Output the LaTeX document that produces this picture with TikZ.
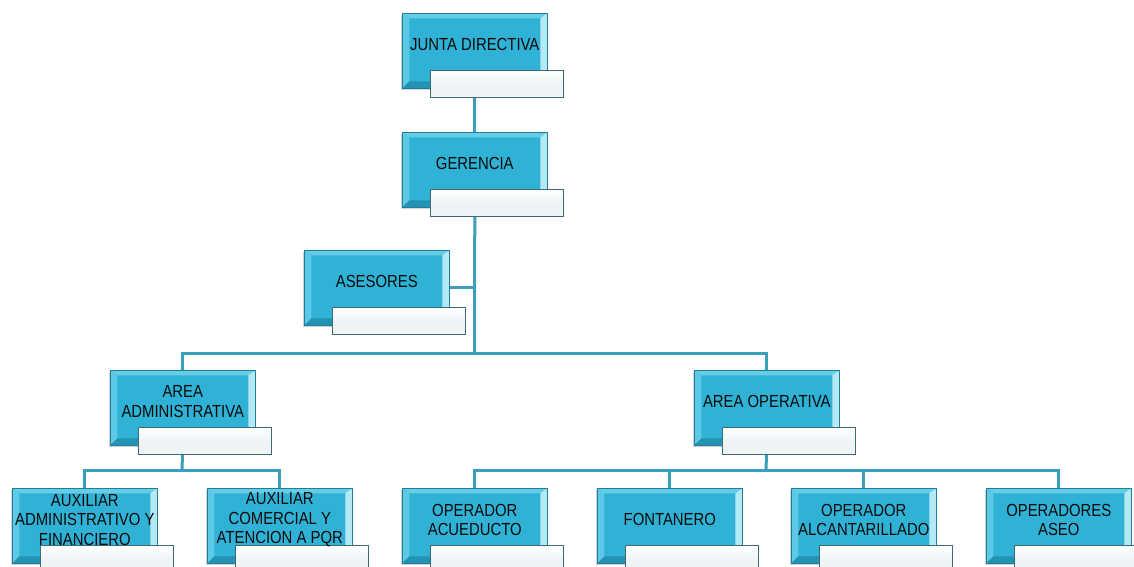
\documentclass[tikz,border=0pt]{standalone}
\usepackage{fontspec}
\newfontfamily\boxfont[FakeStretch=0.85]{Liberation Sans}
\usetikzlibrary{backgrounds,shadows}
\definecolor{boxblue}{HTML}{2FB2D5}
\definecolor{bevleft}{HTML}{5CCAE6}
\definecolor{bevright}{HTML}{B2E9F5}
\definecolor{bevtop}{HTML}{66CDE7}
\definecolor{bevbot}{HTML}{2293B3}
\definecolor{boxedge}{HTML}{1F7F9A}
\definecolor{wfill}{HTML}{EEF3F5}
\definecolor{wedge}{HTML}{3E6B73}
\definecolor{conn}{HTML}{3C9EB9}
\definecolor{textdark}{HTML}{0A0A0A}
\tikzset{
  bluebox/.style={anchor=north west, minimum width=145pt, minimum height=75pt, inner sep=0pt,
    fill=boxblue, draw=boxedge, line width=0.6pt,
    drop shadow={shadow xshift=-1.5pt, shadow yshift=-1.5pt, opacity=0.35},
    path picture={
      \fill[bevtop] (path picture bounding box.north west) -- (path picture bounding box.north east)
        -- ([shift={(-7pt,-5pt)}]path picture bounding box.north east)
        -- ([shift={(7pt,-5pt)}]path picture bounding box.north west) -- cycle;
      \fill[bevleft] (path picture bounding box.north west) -- (path picture bounding box.south west)
        -- ([shift={(7pt,7pt)}]path picture bounding box.south west)
        -- ([shift={(7pt,-5pt)}]path picture bounding box.north west) -- cycle;
      \fill[bevright] (path picture bounding box.north east) -- (path picture bounding box.south east)
        -- ([shift={(-7pt,7pt)}]path picture bounding box.south east)
        -- ([shift={(-7pt,-5pt)}]path picture bounding box.north east) -- cycle;
      \fill[bevbot] (path picture bounding box.south west) -- (path picture bounding box.south east)
        -- ([shift={(-7pt,7pt)}]path picture bounding box.south east)
        -- ([shift={(7pt,7pt)}]path picture bounding box.south west) -- cycle;
    }},
  whitebox/.style={anchor=north west, minimum width=133pt, minimum height=27pt, inner sep=0pt,
    draw=wedge, line width=1.1pt, top color=white, bottom color=wfill, middle color=wfill},
  lbl/.style={align=center, font=\boxfont\fontsize{17.5}{19.5}\selectfont, text=textdark, inner sep=0pt},
  link/.style={draw=conn, line width=3pt}
}
\newcommand{\orgbox}[4]{%
  \node[bluebox] (#1) at (#2,#3) {};
  \node[whitebox] (#1w) at (#2+28,#3+57) {};
  \node[lbl] (#1t) at ([yshift=6pt]#1.center) {#4};
}
\begin{document}
\begin{tikzpicture}[x=1pt,y=-1pt]
\useasboundingbox (0,0) rectangle (1134,567);
\orgbox{jd}{402}{13}{JUNTA DIRECTIVA}
\orgbox{ger}{402}{132}{GERENCIA}
\orgbox{ase}{304}{250}{ASESORES}
\orgbox{aadm}{110}{370}{AREA\\ADMINISTRATIVA}
\orgbox{aop}{694}{370}{AREA OPERATIVA}
\orgbox{aux1}{12}{488}{AUXILIAR\\ADMINISTRATIVO Y\\FINANCIERO}
\orgbox{aux2}{207}{488}{AUXILIAR\\COMERCIAL Y\\ATENCION A PQR}
\orgbox{opac}{402}{488}{OPERADOR\\ACUEDUCTO}
\orgbox{font}{597}{488}{FONTANERO}
\orgbox{opal}{791}{488}{OPERADOR\\ALCANTARILLADO}
\orgbox{opas}{986}{488}{OPERADORES\\ASEO}
\coordinate (t1) at (474.5,353);
\coordinate (t2) at (182,470);
\coordinate (t3) at (766,470);
\begin{scope}[on background layer]
  \draw[link] (jd.south) -- (ger.north);
  \draw[link] (ger.south) -- (t1);
  \draw[link] (ase.east |- ase.center) -- (ase.center -| t1);
  \draw[link] (aadm.north) |- (t1);
  \draw[link] (aop.north) |- (t1);
  \draw[link] (aadm.south) -- (t2);
  \draw[link] (aux1.north) |- (t2);
  \draw[link] (aux2.north) |- (t2);
  \draw[link] (aop.south) -- (t3);
  \draw[link] (opac.north) |- (t3);
  \draw[link] (font.north) |- (t3);
  \draw[link] (opal.north) |- (t3);
  \draw[link] (opas.north) |- (t3);
\end{scope}
\end{tikzpicture}
\end{document}
